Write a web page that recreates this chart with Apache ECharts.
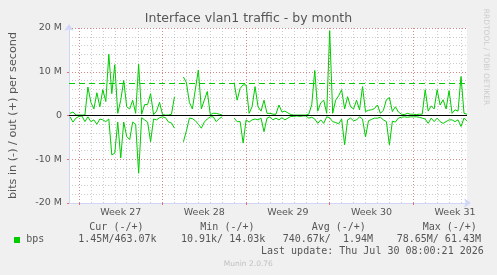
<!DOCTYPE html>
<html><head><meta charset="utf-8">
<script src="https://cdn.jsdelivr.net/npm/echarts@6/dist/echarts.min.js"></script>
<style>html,body{margin:0;padding:0;background:#f0f0f0}#c{width:497px;height:275px}</style>
</head><body><div id="c"></div><script>
// time axis in days relative to Monday of week 27; samples every 6h
const startDay = -0.75;
const stepDay = 0.25;
const outMbps = [
 0.5,0.8,0.1,0.1,0.1,0.1,6.5,3.0,1.5,5.2,2.0,5.9,3.2,14.0,5.0,11.6,0.5,3.5,8.0,2.0,1.5,3.5,0.5,11.7,0.3,2.5,2.5,5.0,0.2,1.0,3.0,0.2,0.1,0.1,0.3,4.3,
 null,null,8.8,7.5,3.0,1.5,6.0,10.4,1.5,3.5,5.5,0.2,0.5,0.5,0.3,0.1,
 null,null,null,7.4,3.5,6.2,7.0,7.0,0.5,2.0,6.6,2.0,1.0,3.5,0.5,0.5,
 0.3,0.3,2.4,0.8,1.0,0.6,0.2,0.1,0.1,0.1,0.1,0.1,0.3,2.5,10.3,1.0,2.9,3.5,0.5,19.4,0.5,3.5,4.5,5.9,1.5,4.3,2.0,1.5,3.5,1.3,6.6,0.9,
 1.2,1.3,1.6,2.4,0.5,1.2,3.6,4.1,0.9,2.0,0.8,0.3,0.2,0.5,0.3,0.3,0.2,0.3,0.3,5.9,1.0,2.2,1.5,5.9,2.4,3.6,1.5,5.7,0.5,1.3,1.0,8.9,0.5,0.3
];
const inMbps = [
 -0.3,-1.5,-0.6,-0.2,-0.1,-1.4,-0.3,-1.4,-1.0,-2.0,-0.8,-1.0,-1.4,-0.8,-9.0,-8.6,-1.5,-9.7,-1.5,-4.8,-5.5,-1.5,-2.0,-13.2,-0.5,-1.0,-1.5,-6.0,-0.8,-1.0,-0.5,-0.3,-0.5,-1.5,-1.7,-2.9,
 null,null,-6.0,-3.5,-0.6,-0.7,-1.2,-2.0,-2.9,-1.5,-0.8,-0.3,-0.3,-1.4,-0.7,-0.3,
 null,null,null,-0.6,-1.4,-1.4,-6.3,-1.0,-1.5,-1.0,-0.8,-1.0,-0.6,-3.7,-0.6,-0.3,
 -1.0,-0.6,-1.0,-0.5,-1.0,-0.6,-0.2,-0.2,-0.1,-0.2,-0.1,-0.1,-0.6,-0.4,-0.8,-1.8,-1.0,-1.8,-0.3,-0.5,-1.4,-1.6,-1.9,-0.8,-6.7,-1.0,-0.6,-1.2,-1.0,-0.3,-0.8,-4.9,
 -1.2,-0.9,-0.6,-0.6,-0.4,-1.0,-1.4,-6.7,-1.3,-1.5,-0.6,-0.4,-0.3,-0.4,-0.3,-0.3,-0.3,-0.4,-0.6,-0.8,-1.8,-0.6,-1.4,-0.6,-1.4,-1.8,-1.4,-1.0,-1.0,-1.4,-1.0,-2.5,-0.6,-1.3
];
const weekStarts = [0, 7, 14, 21, 28];
const weekLabelPos = [3.5, 10.5, 17.5, 24.5, 31.5];
const weekLabels = ['Week 27', 'Week 28', 'Week 29', 'Week 30', 'Week 31'];
const dayLines = [0,1,2,3,4,5,6,7,8,9,10,11,12,13,14,15,16,17,18,19,20,21,22,23,24,25,26,27,28,29,30,31,32];
const yLabels = {'-20':'-20 M','-10':'-10 M','0':'0','10':'10 M','20':'20 M'};
const dashedLevel = 7.4;
const legendHeads = ['Cur (-/+)', 'Min (-/+)', 'Avg (-/+)', 'Max (-/+)'];
const legendVals = ['1.45M/463.07k', '10.91k/ 14.03k', '740.67k/  1.94M', '78.65M/ 61.43M'];
const seriesName = 'bps';
const lastUpdate = 'Last update: Thu Jul 30 08:00:21 2026';

const toPts = arr => arr.map((v, i) => [startDay + i * stepDay, v]);
const GREEN = '#00CC00';
const AXIS = '#CFD6F8';
const FONT = '#555555';
const grayGrid = {color: 'rgba(160,160,160,0.55)', type: [1, 2], width: 1};
const redGrid = {color: 'rgba(230,80,80,0.55)', type: [1, 2], width: 1};
const XMIN = -5/6, XMAX = 32.5;

const chart = echarts.init(document.getElementById('c'), null, {renderer: 'canvas'});
const headX = [89.3, 200.3, 311.7, 422.7];
const valX = [78.3, 181, 282.7, 396.7];
const mono = 'DejaVu Sans Mono';
const graphics = [];
legendHeads.forEach((t, i) => graphics.push({type: 'text', x: headX[i], y: 227.3, silent: true,
  style: {text: t, fill: FONT, font: '10px "' + mono + '"', verticalAlign: 'middle'}}));
legendVals.forEach((t, i) => graphics.push({type: 'text', x: valX[i], y: 239.7, silent: true,
  style: {text: t, fill: FONT, font: '10px "' + mono + '"', verticalAlign: 'middle'}}));
graphics.push({type: 'rect', shape: {x: 14, y: 237, width: 6, height: 6}, style: {fill: GREEN}, silent: true});
graphics.push({type: 'text', x: 26.3, y: 239.7, silent: true, style: {text: seriesName, fill: FONT, font: '10px "' + mono + '"', verticalAlign: 'middle'}});
graphics.push({type: 'text', x: 261, y: 251.7, silent: true, style: {text: lastUpdate, fill: FONT, font: '10px "' + mono + '"', verticalAlign: 'middle'}});
graphics.push({type: 'text', x: 248.3, y: 264, silent: true, style: {text: 'Munin 2.0.76', fill: '#c0c0c0', font: '7.5px "DejaVu Sans"', align: 'center', verticalAlign: 'middle'}});
graphics.push({type: 'text', x: 486, y: 57, rotation: -Math.PI / 2, silent: true, style: {text: 'RRDTOOL / TOBI OETIKER', fill: '#cccccc', font: '7.5px "DejaVu Sans"', align: 'center', verticalAlign: 'middle'}});

chart.setOption({
  animation: false,
  backgroundColor: '#f0f0f0',
  title: {text: 'Interface vlan1 traffic - by month', left: 'center', top: 12, padding: 0,
    textStyle: {fontFamily: 'DejaVu Sans', fontSize: 12.5, fontWeight: 'normal', color: FONT}},
  grid: {left: 67, top: 28, width: 400, height: 175, show: true, backgroundColor: '#ffffff', borderWidth: 0},
  xAxis: [
    {type: 'value', min: XMIN, max: XMAX, position: 'bottom',
     axisLine: {show: true, onZero: false, lineStyle: {color: AXIS, width: 1}, symbol: ['none', 'arrow'], symbolSize: [7, 7], symbolOffset: [0, 4]},
     axisTick: {show: false, customValues: dayLines},
     axisLabel: {show: false},
     splitLine: {show: true, lineStyle: grayGrid}},
    {type: 'value', min: XMIN, max: XMAX, position: 'bottom',
     axisLine: {show: false, onZero: false},
     axisTick: {show: true, customValues: weekStarts, length: 2, inside: false, lineStyle: {color: 'rgba(230,80,80,0.8)'}},
     axisLabel: {show: true, customValues: weekLabelPos, margin: 5, color: FONT, fontFamily: 'DejaVu Sans', fontSize: 9.5,
       formatter: v => weekLabels[weekLabelPos.indexOf(v)] || ''},
     splitLine: {show: true, lineStyle: redGrid}}
  ],
  yAxis: [
    {type: 'value', min: -20, max: 20, interval: 2,
     axisLine: {show: false}, axisTick: {show: false}, axisLabel: {show: false},
     splitLine: {show: true, lineStyle: grayGrid}},
    {type: 'value', min: -20, max: 20, interval: 10, position: 'left',
     name: 'bits in (-) / out (+) per second', nameLocation: 'middle', nameGap: 50, nameRotate: 90,
     nameTextStyle: {fontFamily: 'DejaVu Sans', fontSize: 11.2, color: FONT},
     axisLine: {show: true, onZero: false, lineStyle: {color: AXIS, width: 1}, symbol: ['none', 'arrow'], symbolSize: [7, 7], symbolOffset: [0, 4]},
     axisTick: {show: true, length: 2, lineStyle: {color: 'rgba(230,80,80,0.8)'}},
     axisLabel: {margin: 7, color: FONT, fontFamily: 'DejaVu Sans', fontSize: 9.5, formatter: v => yLabels[String(v)] || ''},
     splitLine: {show: true, lineStyle: redGrid}}
  ],
  series: [
    {type: 'line', name: 'out', data: toPts(outMbps), xAxisIndex: 0, yAxisIndex: 0, showSymbol: false, symbol: 'none',
     connectNulls: false, lineStyle: {color: GREEN, width: 1}, itemStyle: {color: GREEN}, z: 3,
     markLine: {silent: true, symbol: 'none', label: {show: false}, animation: false,
       data: [{yAxis: dashedLevel, lineStyle: {color: GREEN, type: [6, 4], width: 1.2}}]}},
    {type: 'line', name: 'in', data: toPts(inMbps), xAxisIndex: 0, yAxisIndex: 0, showSymbol: false, symbol: 'none',
     connectNulls: false, lineStyle: {color: GREEN, width: 1}, itemStyle: {color: GREEN}, z: 3,
     markLine: {silent: true, symbol: 'none', label: {show: false}, animation: false,
       data: [{yAxis: 0, lineStyle: {color: '#000000', type: 'solid', width: 1}}]}}
  ],
  graphic: graphics
});
</script></body></html>
